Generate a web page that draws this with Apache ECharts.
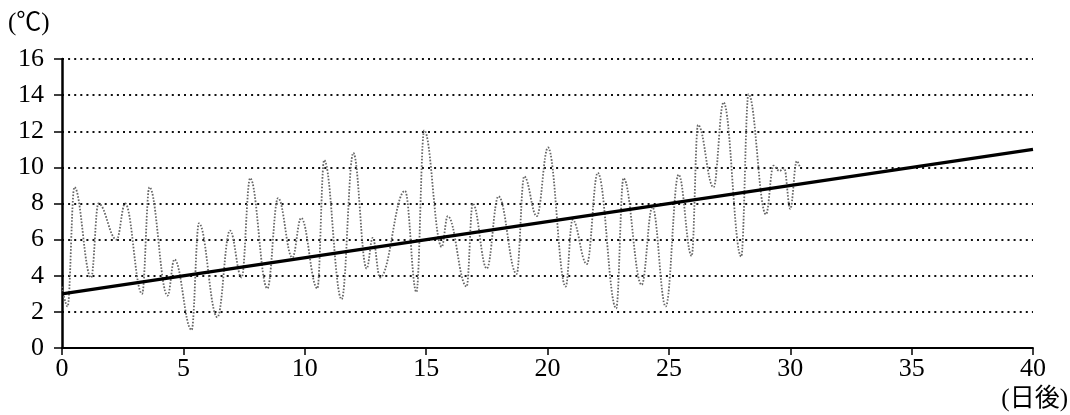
<!DOCTYPE html>
<html>
<head>
<meta charset="utf-8">
<script src="https://cdn.jsdelivr.net/npm/echarts@6/dist/echarts.min.js"></script>
<style>html,body{margin:0;padding:0;background:#fff}#c{width:1070px;height:415px}</style>
</head>
<body>
<div id="c"></div>
<script>
// temperature trace (days after, °C) — peaks/troughs
var dayX = [0.0,0.23,0.51,1.2,1.5,2.25,2.6,3.3,3.6,4.35,4.63,5.34,5.64,6.4,6.92,7.4,7.75,8.46,8.9,9.49,9.85,
  10.52,10.8,11.52,12.0,12.55,12.8,13.1,14.13,14.6,14.92,15.64,15.89,16.67,16.92,17.5,17.98,18.73,19.04,19.56,
  20.02,20.75,21.03,21.62,22.07,22.83,23.13,23.88,24.32,24.87,25.4,25.94,26.2,26.84,27.25,27.98,28.28,29.0,29.31,
  29.55,29.75,30.0,30.27,30.4];
var tempY = [3.4,2.3,8.9,3.9,8.0,6.0,8.0,3.0,8.9,2.9,4.9,1.0,6.9,1.7,6.5,3.9,9.4,3.3,8.3,5.0,7.2,
  3.3,10.4,2.7,10.8,4.4,6.1,3.9,8.7,3.1,12.05,5.6,7.3,3.4,8.0,4.4,8.4,4.1,9.5,7.3,
  11.1,3.4,7.1,4.65,9.7,2.2,9.4,3.5,7.8,2.3,9.6,5.1,12.35,8.9,13.6,5.06,14.05,7.4,10.1,
  9.8,9.95,7.7,10.35,10.0];
// trend line
var trendX = [0, 40];
var trendY = [3, 11];
// axes
var xTicks = [0,5,10,15,20,25,30,35,40];
var yTicks = [0,2,4,6,8,10,12,14,16];
var yUnit = '(℃)';
var xUnit = '(日後)';

function pairs(xs, ys){ var r=[]; for(var i=0;i<xs.length;i++) r.push([xs[i], ys[i]]); return r; }

var font = 'Liberation Serif, Noto Sans CJK JP, serif';
var chart = echarts.init(document.getElementById('c'));
chart.setOption({
  animation: false,
  backgroundColor: '#fff',
  grid: {left: 62, right: 37, top: 59, bottom: 67, containLabel: false, outerBoundsMode: 'none'},
  xAxis: {
    type: 'value', min: xTicks[0], max: xTicks[xTicks.length-1], interval: 5,
    axisLine: {show: true, onZero: false, lineStyle: {color: '#000', width: 1.8}},
    axisTick: {show: true, length: 7, lineStyle: {color: '#000', width: 1.5}},
    axisLabel: {color: '#000', fontSize: 26, fontFamily: font, margin: 8},
    splitLine: {show: false}
  },
  yAxis: {
    type: 'value', min: yTicks[0], max: yTicks[yTicks.length-1], interval: 2,
    axisLine: {show: true, lineStyle: {color: '#000', width: 2.5}},
    axisTick: {show: true, length: 8, lineStyle: {color: '#000', width: 1.5}},
    axisLabel: {color: '#000', fontSize: 26, fontFamily: font, margin: 18},
    splitLine: {show: true, lineStyle: {color: '#111', width: 2, type: [2, 4.1]}}
  },
  graphic: [
    {type: 'text', left: 8, top: 11, style: {text: yUnit, fontSize: 25, fontFamily: font, fill: '#000'}},
    {type: 'text', right: 2, top: 387, style: {text: xUnit, fontSize: 25, fontFamily: font, fill: '#000'}}
  ],
  series: [
    {
      type: 'line', data: pairs(dayX, tempY), smooth: 0.4, smoothMonotone: 'x', symbol: 'none',
      lineStyle: {color: '#666', width: 1.8, type: [1.6, 1.6]}, z: 2
    },
    {
      type: 'line', data: pairs(trendX, trendY), symbol: 'none',
      lineStyle: {color: '#000', width: 3.2}, z: 3
    }
  ]
});
</script>
</body>
</html>
